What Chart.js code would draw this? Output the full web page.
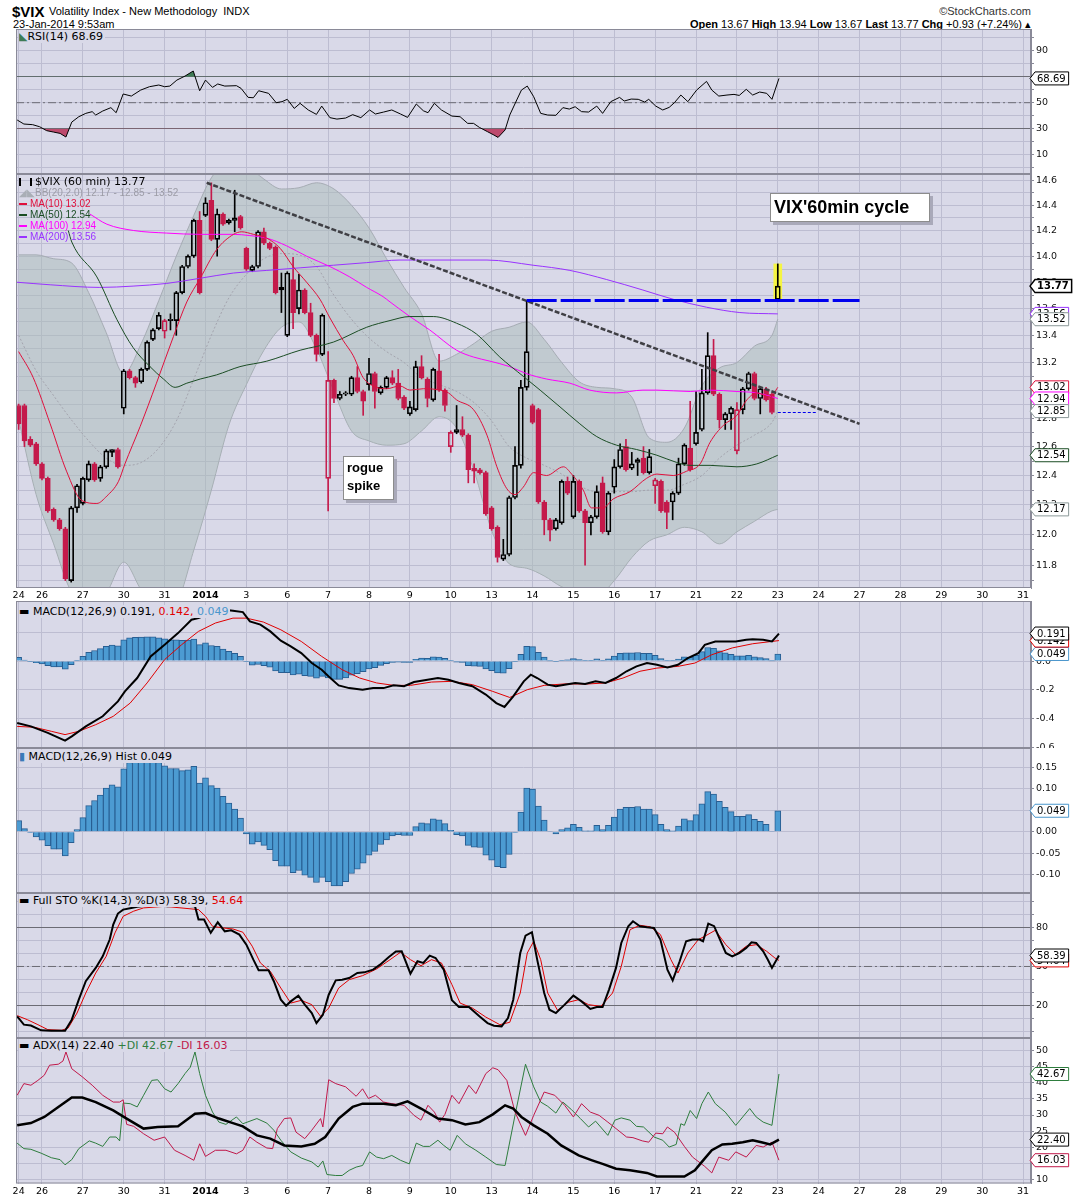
<!DOCTYPE html>
<html>
<head>
<meta charset="utf-8">
<title>$VIX 60 min</title>
<script src="https://cdn.jsdelivr.net/npm/chart.js@4.4.1/dist/chart.umd.min.js"></script>
<style>
  html, body { margin: 0; padding: 0; background: #fff; }
  body { position: relative; width: 1075px; height: 1200px; overflow: hidden; font-family: "Liberation Sans", Arial, sans-serif; color: #000; }
  canvas { position: absolute; left: 0; }
  .txt { position: absolute; white-space: nowrap; }
  .narrow { font-family: "Liberation Sans Narrow", "Liberation Sans", sans-serif; }
  .lg { position: absolute; white-space: nowrap; font: 11px "DejaVu Sans", sans-serif; line-height: 13px; background: #d9d9e8; padding-right: 2px; }
  .mal { position: absolute; left: 19px; white-space: nowrap; font: 10px "Liberation Sans", sans-serif; line-height: 11px; }
  .mal i { display: inline-block; width: 8px; height: 2px; vertical-align: middle; margin-right: 3px; }
  .note { position: absolute; background: #fff; border: 1px solid #8c8c8c; box-shadow: 3px 3px 0 #a9a9b9; font-weight: bold; color: #000; font-family: "Liberation Sans", Arial, sans-serif; }
</style>
</head>
<body>
<div class="txt narrow" style="left:12px;top:3px;font-size:15px;font-weight:bold;">$VIX</div>
<div class="txt narrow" style="left:49px;top:5px;font-size:11px;">Volatility Index - New Methodology&nbsp; INDX</div>
<div class="txt narrow" style="right:44px;top:5px;font-size:11px;color:#333;">©StockCharts.com</div>
<div class="txt narrow" style="left:13px;top:18px;font-size:11px;">23-Jan-2014 9:53am</div>
<div class="txt narrow" style="right:44px;top:18px;font-size:11px;"><b>Open</b> 13.67 <b>High</b> 13.94 <b>Low</b> 13.67 <b>Last</b> 13.77 <b>Chg</b> +0.93 (+7.24%) ▴</div>

<canvas id="rsiChart" width="1075" height="145" style="top:29px"></canvas>
<canvas id="priceChart" width="1075" height="430" style="top:174px"></canvas>
<canvas id="macdChart" width="1075" height="147" style="top:601px"></canvas>
<canvas id="histChart" width="1075" height="145" style="top:748px"></canvas>
<canvas id="stoChart" width="1075" height="145" style="top:893px"></canvas>
<canvas id="adxChart" width="1075" height="162" style="top:1038px"></canvas>

<div class="lg" style="left:19px;top:30px;"><span style="color:#3e7b55">◣</span>RSI(14) 68.69</div>

<div class="mal" style="top:175px;font:11px 'DejaVu Sans';line-height:13px;"><span style="display:inline-block;width:9px;height:8px;border:1px solid #000;border-width:0 2px;margin-right:3px;vertical-align:-1px"></span>$VIX (60 min) 13.77</div>
<div class="mal" style="top:187px;color:#9c9ca6;"><span style="color:#a9aeb6">◢◣</span>BB(20,2.0) 12.17 - 12.85 - 13.52</div>
<div class="mal" style="top:198px;color:#e0103c;"><i style="background:#e0103c"></i>MA(10) 13.02</div>
<div class="mal" style="top:209px;color:#1b4d24;"><i style="background:#1b4d24"></i>MA(50) 12.54</div>
<div class="mal" style="top:220px;color:#ff00ff;"><i style="background:#ff00ff"></i>MA(100) 12.94</div>
<div class="mal" style="top:231px;color:#9933ff;"><i style="background:#9933ff"></i>MA(200) 13.56</div>

<div class="note" style="left:770px;top:193px;width:155px;height:27px;font-size:18px;line-height:27px;padding-left:3px;">VIX'60min cycle</div>
<div class="note" style="left:343px;top:456px;width:46px;height:40px;font-size:13px;line-height:18px;padding:2px 0 0 3px;">rogue<br>spike</div>

<div class="lg" style="left:19px;top:605px;">▬ MACD(12,26,9) 0.191, <span style="color:#e00000">0.142,</span> <span style="color:#4a96cc">0.049</span></div>
<div class="lg" style="left:19px;top:750px;"><span style="color:#3a7ab8">▮</span> MACD(12,26,9) Hist 0.049</div>
<div class="lg" style="left:19px;top:894px;">▬ Full STO %K(14,3) %D(3) 58.39, <span style="color:#e00000">54.64</span></div>
<div class="lg" style="left:19px;top:1039px;">▬ ADX(14) 22.40 <span style="color:#2e7d3e">+DI 42.67</span> <span style="color:#c0184a">-DI 16.03</span></div>

<script>
// day grid: bar index of first hourly bar of each session
const dayIdx = [0, 4, 11, 18, 25, 32, 39, 46, 53, 60, 67, 74, 81, 88, 95, 102, 109, 116, 123, 130, 137, 144, 151, 158, 165, 172];
const dayLbl = ["24", "26", "27", "30", "31", "2014", "3", "6", "7", "8", "9", "10", "13", "14", "15", "16", "17", "21", "22", "23", "24", "27", "28", "29", "30", "31"];

// hourly candles, 24-Dec-2013 to 23-Jan-2014 9:53am
const openV = [12.89,12.89,12.65,12.62,12.48,12.38,12.17,12.10,12.04,11.70,
  12.18,12.21,12.37,12.48,12.38,12.46,12.56,12.58,12.87,13.14,
  13.09,13.06,13.15,13.37,13.45,13.43,13.51,13.51,13.72,13.92,
  14.00,14.28,14.32,14.44,14.13,14.33,14.26,14.28,14.31,14.06,
  13.89,13.92,14.19,14.10,14.07,13.74,13.40,13.82,13.60,13.74,
  13.57,13.40,13.26,12.38,13.07,12.94,12.97,12.97,13.09,12.99,
  13.04,13.12,12.98,13.02,13.09,13.05,12.95,12.83,12.86,13.17,
  13.08,12.93,13.14,13.00,12.60,12.70,12.72,12.68,12.45,12.44,
  12.42,12.18,12.05,11.84,11.87,12.25,12.47,13.02,12.89,12.86,
  12.22,12.10,12.04,12.08,12.36,12.12,12.36,12.16,12.08,12.12,
  12.35,12.02,12.32,12.46,12.60,12.45,12.49,12.52,12.42,12.33,
  12.36,12.22,12.22,12.28,12.48,12.59,12.62,12.72,12.98,13.25,
  12.97,12.79,12.83,12.57,12.86,13.01,13.12,12.94,13.01,12.97,
  13.67];
const highV = [12.90,12.90,12.67,12.63,12.49,12.39,12.18,12.11,12.05,12.19,
  12.34,12.39,12.50,12.49,12.47,12.58,12.58,12.59,13.15,13.15,
  13.10,13.16,13.36,13.45,13.57,13.52,13.56,13.73,13.93,14.01,
  14.29,14.35,14.46,14.58,14.37,14.34,14.29,14.52,14.32,14.07,
  13.93,14.20,14.22,14.11,14.08,13.87,13.88,13.99,13.86,13.75,
  13.64,13.41,13.56,13.28,13.08,12.99,12.99,13.10,13.17,13.00,
  13.23,13.13,13.03,13.10,13.14,13.15,12.96,12.92,13.21,13.25,
  13.09,13.16,13.26,13.01,12.71,12.89,12.81,12.69,12.48,12.45,
  12.43,12.19,12.06,11.97,12.26,12.60,13.07,13.66,12.90,12.87,
  12.23,12.11,12.11,12.37,12.39,12.40,12.37,12.17,12.13,12.33,
  12.39,12.29,12.51,12.62,12.65,12.56,12.52,12.60,12.58,12.38,
  12.37,12.23,12.29,12.52,12.62,12.92,12.99,13.15,13.42,13.37,
  12.98,12.84,12.88,12.91,13.02,13.13,13.13,13.02,13.02,12.98,
  13.94];
const lowV = [12.72,12.60,12.60,12.47,12.37,12.15,12.09,12.03,11.70,11.69,
  12.15,12.20,12.36,12.36,12.36,12.45,12.53,12.45,12.83,13.08,
  13.02,13.05,13.14,13.36,13.44,13.38,13.44,13.40,13.71,13.91,
  13.99,13.71,14.31,14.12,14.00,14.24,14.25,14.19,14.21,13.89,
  13.88,13.91,14.09,14.05,13.71,13.57,13.39,13.45,13.56,13.56,
  13.39,13.21,13.25,12.16,12.91,12.93,12.96,12.96,12.98,12.82,
  13.00,12.87,12.97,13.01,13.04,12.93,12.86,12.82,12.85,13.08,
  12.88,12.92,12.99,12.85,12.56,12.69,12.67,12.35,12.35,12.41,
  12.13,12.03,11.82,11.83,11.86,12.24,12.45,13.00,12.76,12.21,
  12.00,11.96,12.03,12.07,12.27,12.11,12.15,11.80,12.00,12.11,
  12.01,12.00,12.28,12.45,12.43,12.44,12.40,12.41,12.41,12.21,
  12.15,12.04,12.10,12.27,12.47,12.43,12.61,12.71,12.97,12.96,
  12.73,12.72,12.72,12.55,12.83,13.00,12.93,12.83,12.92,12.83,
  13.67];
const closeV = [12.76,12.64,12.61,12.48,12.38,12.16,12.10,12.04,11.71,12.18,
  12.33,12.38,12.48,12.37,12.46,12.57,12.58,12.46,13.14,13.09,
  13.05,13.15,13.35,13.44,13.55,13.51,13.52,13.72,13.92,14.00,
  14.28,13.72,14.42,14.13,14.33,14.25,14.28,14.30,14.22,13.90,
  13.92,14.19,14.10,14.06,13.72,13.76,13.87,13.57,13.74,13.57,
  13.40,13.26,13.55,13.07,12.94,12.97,12.98,13.09,12.99,12.92,
  13.12,12.99,13.02,13.09,13.05,12.94,12.87,12.88,13.17,13.09,
  12.94,13.15,13.00,12.89,12.70,12.72,12.68,12.44,12.43,12.42,
  12.14,12.04,11.85,11.87,12.25,12.47,13.02,13.28,12.77,12.22,
  12.10,12.03,12.10,12.36,12.28,12.36,12.16,12.08,12.12,12.29,
  12.02,12.28,12.46,12.58,12.44,12.48,12.51,12.42,12.53,12.37,
  12.16,12.15,12.28,12.48,12.61,12.44,12.70,12.98,13.25,12.97,
  12.79,12.83,12.87,12.86,13.01,13.12,12.94,13.01,12.93,12.84,
  13.77];

// Bollinger band (20,2) read every third bar
const bbAt = [0,3,6,9,12,15,18,21,24,27,30,33,36,39,42,45,48,51,54,57,60,63,66,69,72,75,78,81,84,87,90,93,96,99,102,105,108,111,114,117,120,123,126,129,130];
const bbUpper = [14.01,14.01,13.98,13.95,13.72,13.42,13.12,13.34,13.66,14.0,14.32,14.62,14.75,14.72,14.61,14.53,14.54,14.58,14.53,14.40,14.22,13.98,13.76,13.56,13.21,13.26,13.34,13.43,13.46,13.50,13.37,13.20,13.06,13.02,13.01,12.95,12.66,12.63,12.73,13.03,13.16,13.20,13.32,13.40,13.52];
const bbMid = [13.40,13.14,12.96,12.79,12.64,12.52,12.47,12.49,12.59,12.78,13.08,13.40,13.68,13.86,13.98,14.02,14.01,13.92,13.70,13.52,13.38,13.28,13.20,13.09,13.04,12.99,12.91,12.78,12.60,12.52,12.47,12.41,12.33,12.29,12.29,12.29,12.30,12.30,12.34,12.40,12.52,12.61,12.68,12.77,12.85];
const bbLower = [12.79,12.27,11.94,11.63,11.56,11.62,11.82,11.64,11.52,11.56,11.90,12.30,12.75,13.04,13.29,13.46,13.50,13.30,12.99,12.71,12.64,12.61,12.62,12.71,12.81,12.73,12.43,12.03,11.81,11.78,11.73,11.66,11.62,11.60,11.70,11.85,11.96,12.00,12.05,12.02,11.94,12.02,12.09,12.16,12.17];

// moving averages as [bar, value]
const ma10Pts = [[0,13.28],[2.5,13.09],[5.4,12.76],[8.2,12.43],[10.8,12.23],[13.4,12.21],[15.1,12.26],[17.1,12.36],[18.2,12.48],[20.8,12.74],[23.6,13.05],[26.5,13.39],[28.8,13.65],[31.1,13.83],[33.9,14.05],[36.8,14.17],[38.2,14.19],[40.2,14.17],[42.5,14.14],[44.8,14.06],[47,13.92],[49.3,13.80],[51.6,13.67],[53.3,13.53],[55.6,13.36],[57.3,13.25],[59,13.09],[61.3,13.02],[63,13.01],[65.3,13.03],[67,13.0],[69.3,13.01],[72.2,13.0],[73.6,12.98],[75,12.93],[77.9,12.86],[80.2,12.68],[81.9,12.46],[83.6,12.31],[85,12.27],[86.4,12.32],[88.2,12.42],[90.4,12.40],[93.3,12.46],[94.7,12.41],[96.7,12.30],[98.1,12.18],[100.1,12.18],[101.8,12.24],[104.7,12.29],[107.5,12.38],[109.3,12.41],[112.1,12.40],[114.4,12.43],[116.7,12.48],[118.4,12.63],[120.7,12.75],[123,12.82],[124.7,12.93],[126.4,12.98],[128.7,12.95],[130,13.02]];
const ma50Pts = [[8.5,14.2],[9.1,14.11],[13.4,13.84],[16.8,13.52],[19.6,13.31],[22.5,13.17],[24.8,13.08],[26.8,13.02],[28.8,13.05],[31.1,13.08],[33.9,13.11],[37.9,13.17],[42.5,13.21],[48.2,13.29],[53.9,13.35],[59.6,13.46],[63.6,13.51],[67,13.54],[71,13.54],[75,13.49],[78.4,13.41],[82.4,13.24],[86.4,13.10],[89.3,13.0],[92.7,12.88],[96.1,12.76],[99,12.67],[102.4,12.61],[105.8,12.58],[109.3,12.54],[112.7,12.49],[115,12.47],[118.4,12.47],[123,12.46],[126.4,12.48],[130,12.54]];
const ma100Pts = [[12.2,14.33],[15.1,14.25],[19.7,14.2],[25.3,14.18],[31.1,14.17],[36.8,14.17],[39.6,14.16],[42.5,14.14],[45.9,14.08],[49.3,14.0],[53.3,13.92],[56.7,13.84],[59.6,13.76],[62.4,13.69],[63.6,13.65],[67,13.54],[70.4,13.44],[75,13.29],[77.9,13.24],[80.7,13.21],[84.1,13.17],[86.9,13.12],[90.4,13.08],[94.4,13.05],[97.8,13.0],[102.4,12.98],[106.9,13.0],[109.3,13.0],[115,12.99],[118.4,13.0],[123,12.99],[126.4,12.98],[130,12.94]];
const ma200Pts = [[-0.45,13.8],[5.4,13.78],[13.9,13.76],[19.6,13.77],[25.3,13.79],[31.1,13.83],[36.8,13.87],[42.5,13.89],[48.2,13.91],[53.9,13.93],[59.6,13.95],[65.3,13.97],[69.3,13.97],[80.2,13.97],[88.1,13.93],[94.4,13.89],[100.7,13.82],[106.9,13.74],[112.1,13.67],[117.8,13.61],[123.5,13.57],[130,13.56]];

// hand-drawn lines
const trendPts = [[32.2,14.58],[144,12.76]];
const resistPts = [[87,13.66],[144,13.66]];
const supportPts = [[130,12.84],[136.7,12.84]];

// indicators as [bar, value]
const rsiPts = [[-0.25,36.7],[0.9,33.6],[2.4,33.1],[3.6,31.5],[4.8,28.5],[6,27.4],[7.1,26.4],[8.1,23.6],[9.1,35.1],[10.3,39.2],[11.5,41.8],[12.6,43.1],[13.2,40.5],[14.4,43.6],[15.8,46.2],[16.7,42.3],[17.9,56.7],[19.3,55.1],[20.9,59.7],[22.4,62.3],[24,63.6],[25,62.3],[25.9,62.8],[27.1,67.4],[28.5,70.5],[29.9,74.4],[31,59.2],[32,67.4],[33.2,61.8],[34.1,64.4],[35.3,62.8],[37.3,63.1],[38.1,61],[39.3,54.1],[40.2,53.8],[41.1,59.2],[42.8,57.2],[44.1,50],[45.1,50.8],[46,52.6],[47.2,45.6],[48.2,49.5],[49.6,44.4],[51,41],[51.9,47.4],[53.3,38.5],[54.5,37.4],[56,38.2],[57.2,40.8],[58.6,38.5],[60.1,44.4],[61.1,41.3],[62.5,42.8],[63.9,44.4],[65.4,41.3],[66.6,38.7],[68.1,49],[69.3,43.8],[70.1,42.3],[71.2,49.5],[72.4,44.4],[74.2,39.7],[75.6,39.2],[76.9,34.1],[77.9,34.1],[78.9,31],[80.3,27.7],[81.4,25.1],[82.1,23.3],[83.3,29],[84.1,40.5],[85.3,52.1],[86.1,59.7],[87.1,62.8],[88.2,54.6],[89.4,41.8],[90.6,40.5],[92,40.3],[93.2,46.2],[94.3,45.1],[95.3,46.9],[96.4,43.1],[97.6,42.8],[99,47.4],[100,41.8],[101.4,50.8],[102.9,54.1],[103.7,51.3],[104.9,52.8],[106.1,52.6],[107.2,50.5],[107.9,52.6],[109.1,47.4],[110.3,44.4],[111.4,46.4],[112.3,50],[113.4,55.9],[114.6,50.8],[116.1,59.7],[117.8,66.4],[118.7,59.7],[119.9,55.1],[121.3,55.9],[122.5,56.4],[123.4,55.6],[124.6,60.3],[125.7,55.9],[126.9,58.2],[128.1,57.2],[129,52.6],[130.2,68.69]];

const macdPts = [[-0.25,-0.43],[2.1,-0.454],[5,-0.499],[7.95,-0.553],[9.1,-0.523],[11.5,-0.454],[14.4,-0.384],[17,-0.28],[18.2,-0.211],[20.3,-0.118],[22.6,0.032],[25,0.113],[27.3,0.194],[29.6,0.287],[30.8,0.298],[32,0.317],[34,0.343],[36,0.353],[36.7,0.35],[38.4,0.34],[39.6,0.275],[41.4,0.253],[43.1,0.206],[44.9,0.141],[46.6,0.102],[48.4,0.055],[50.2,-0.014],[51.9,-0.06],[53.1,-0.107],[54.8,-0.169],[56.6,-0.188],[58.9,-0.199],[60.7,-0.188],[62.5,-0.188],[64.2,-0.169],[66,-0.175],[67.7,-0.146],[69.5,-0.134],[71.8,-0.118],[73.6,-0.13],[75.4,-0.152],[77.7,-0.175],[80,-0.233],[81.8,-0.292],[83.2,-0.319],[84.7,-0.245],[86.5,-0.141],[87.7,-0.095],[88.8,-0.118],[90.6,-0.164],[92,-0.175],[93.5,-0.164],[95.3,-0.152],[97,-0.159],[98.8,-0.141],[100.5,-0.152],[102.3,-0.118],[104.1,-0.071],[105.8,-0.037],[107.6,-0.014],[109.3,-0.026],[111.1,-0.044],[112.9,-0.026],[114.6,0.021],[116.4,0.055],[117.5,0.113],[119.3,0.136],[121,0.136],[122.8,0.136],[124.6,0.148],[125.7,0.152],[127.5,0.148],[129,0.136],[130.2,0.191]];
const signalPts = [[-0.25,-0.454],[2.7,-0.46],[5.6,-0.488],[7.95,-0.511],[10.3,-0.488],[13.2,-0.442],[16.2,-0.384],[19.1,-0.292],[22,-0.152],[25,0.01],[27.9,0.113],[30.8,0.206],[33.7,0.264],[36.7,0.298],[39,0.298],[41.9,0.271],[44.9,0.217],[48.4,0.136],[51.9,0.032],[55.4,-0.06],[58.4,-0.118],[61.3,-0.152],[64.2,-0.169],[67.1,-0.169],[70.7,-0.146],[74.2,-0.141],[77.7,-0.164],[81.2,-0.211],[84.1,-0.253],[87.1,-0.199],[90,-0.169],[93.5,-0.159],[97.6,-0.159],[100.5,-0.152],[103.5,-0.118],[106.4,-0.071],[109.3,-0.049],[112.9,-0.037],[115.8,-0.014],[118.7,0.044],[122.2,0.091],[125.7,0.12],[130.2,0.142]];
const histV = [0.026,0.007,-0.002,-0.012,-0.020,-0.033,-0.041,-0.041,-0.057,-0.026,
  0.005,0.033,0.061,0.073,0.086,0.102,0.110,0.105,0.147,0.162,
  0.164,0.166,0.168,0.168,0.162,0.154,0.148,0.148,0.143,0.145,
  0.153,0.114,0.126,0.108,0.102,0.083,0.067,0.053,0.032,-0.005,
  -0.029,-0.024,-0.032,-0.042,-0.068,-0.081,-0.081,-0.096,-0.091,-0.102,
  -0.107,-0.119,-0.107,-0.117,-0.127,-0.127,-0.117,-0.098,-0.088,-0.074,
  -0.055,-0.046,-0.030,-0.019,-0.010,-0.007,-0.009,-0.009,0.012,0.021,
  0.019,0.030,0.028,0.019,0.003,-0.007,-0.010,-0.032,-0.036,-0.037,
  -0.055,-0.067,-0.082,-0.084,-0.053,-0.002,0.046,0.102,0.100,0.060,
  0.027,0.001,-0.005,0.005,0.009,0.017,0.010,0.002,0.002,0.015,
  0.005,0.015,0.034,0.053,0.057,0.057,0.059,0.053,0.053,0.040,
  0.017,0.005,0.002,0.013,0.030,0.026,0.040,0.065,0.094,0.088,
  0.071,0.057,0.047,0.036,0.036,0.040,0.029,0.024,0.017,0.001,
  0.049];

const stoKPts = [[-0.25,11.9],[0.9,5.5],[2.1,4.8],[3.85,1.2],[5.6,0.9],[7.95,0.9],[9.1,9.3],[10.3,24.6],[11.5,38.7],[13.2,48.9],[14.4,57.8],[15.6,70.6],[16.2,82],[17,90.5],[17.9,93.5],[19.3,94.8],[20.3,95.6],[22,96.6],[23.8,96.6],[25.5,96],[27.3,96.6],[30.2,96],[30.8,85.9],[31.75,85.9],[32.9,75.7],[34.1,83.8],[35.3,76.9],[36.4,77.7],[37.8,74.4],[39,66.7],[40.2,55.2],[41.1,47.1],[42.8,47.1],[43.7,38.7],[44.9,24.6],[45.8,20],[46.6,23.3],[47.9,27.7],[49,20.8],[50.2,14.4],[51,6.7],[52.1,13.1],[53.1,28.4],[54.3,39.4],[55.4,39.9],[56.6,41.2],[58,45],[59.2,45.5],[60.7,47.6],[61.9,51.4],[63.4,57.3],[64.6,61.4],[65.6,61.6],[67.1,44.5],[68.3,54],[69.3,52.7],[70.4,58.3],[71.4,56.5],[72.8,47.6],[74.2,24.1],[75.4,19],[77.1,19],[78.9,11.9],[80.3,6.7],[81.4,4.7],[82.7,4.2],[83.8,10.6],[84.7,24.6],[85.9,60.3],[86.8,73.6],[87.9,76.2],[88.8,55.2],[90,29.7],[90.9,16.9],[92,14.4],[93.5,20.8],[95,27.7],[96.4,23.3],[97.9,17.5],[99,19],[100,19],[101.1,32.3],[102.3,48.9],[103.2,68],[104.4,80.8],[105.2,84.6],[106.4,80.8],[107.6,80],[108.8,79.5],[109.9,70.6],[111.1,47.6],[112,39.4],[113.2,54],[114.3,69.3],[115.4,70.6],[116.6,70.6],[117.2,69.3],[118.1,82.8],[119.1,80.8],[120.1,70.6],[121.1,60.3],[122.2,57.8],[123.4,60.3],[124.6,64.2],[125.5,68.5],[126.3,68],[127.5,61.6],[128.3,55.2],[129,48.9],[130.2,58.39]];
const stoDPts = [[-0.25,12.4],[1.5,9.3],[3.3,5.5],[5,1.7],[7.4,1.2],[8.5,3],[10,14.4],[11.5,29.7],[13.2,45],[15,57.8],[16.5,75.7],[17.9,88.4],[19.7,92.3],[21.4,94.8],[25,96],[30.8,93.5],[32,88.4],[33.2,80.8],[34.9,79.5],[36.7,78.7],[38.4,76.2],[40,65.5],[41.4,52.7],[43.1,46.3],[44.9,33.5],[46.6,22],[48.4,24.1],[50.2,20.8],[51.7,11.9],[53.1,18.2],[54.8,33.5],[56.6,39.9],[58.9,43],[61.3,48.1],[63.6,55.2],[65.4,60.9],[67.1,55.2],[68.9,50.6],[70.7,55.2],[72.4,52.7],[74.2,36.1],[75.6,22],[77.7,18.2],[80,11.3],[82.4,5.5],[84.1,7.3],[85.9,29.7],[87.1,60.3],[88.2,69.3],[89.4,55.2],[90.6,29.7],[92.3,16.4],[94.1,22.6],[95.9,24.6],[97.6,20.8],[99.7,19.5],[101.7,29.7],[103.2,50.1],[104.7,78.2],[106.4,81.5],[108.2,80.3],[109.9,74.4],[111.7,55.2],[112.9,45],[114.6,60.3],[116.4,70.6],[117.5,73.1],[119.3,77.7],[121.1,66.7],[122.8,59.1],[124.6,65.5],[126.3,66.7],[128.1,61.6],[129.5,56.5],[130.2,54.64]];

const adxPts = [[-0.25,26.8],[2.1,27.5],[4.4,29.4],[6.8,32.5],[9.1,35.4],[10.9,35.4],[13.2,34],[16.2,31.4],[18.5,28.9],[21.4,25.8],[23.8,26.3],[27.3,26.5],[30.2,30.4],[32,30.6],[34.3,28.9],[36.7,27.5],[38.4,26.5],[40.8,23.7],[43.1,22.7],[45.5,20.6],[48.4,20.3],[50.7,21.1],[52.5,23.2],[54.8,28.9],[57.2,32.5],[58.9,33.5],[62.5,33.5],[64.6,33],[66.6,34.2],[68.9,32],[71.8,28.9],[74.2,28.4],[76.5,27.1],[78.9,27.8],[81.2,30.2],[83.3,33],[84.7,32],[86.1,29.4],[88.2,26.8],[90.6,24.2],[92.9,20.6],[95.9,17.5],[98.2,16],[100,14.9],[102.3,13.4],[104.7,12.9],[107.6,12.1],[109.3,11],[111.7,11],[114,11],[115.8,12.9],[117,15.5],[118.7,19.1],[120.5,20.9],[122.2,21.1],[124,21.6],[125.7,22.2],[127.2,21.6],[128.7,20.9],[130.2,22.4]];
const plusDiPts = [[-0.25,21.3],[0.9,19.6],[2.1,19.4],[3.85,18.2],[5.6,16.8],[7.1,16.2],[7.95,14.6],[9.1,16.2],[10.3,19.6],[12.1,22],[13.2,21.3],[14.4,20.3],[15.6,23.2],[16.7,23.2],[17.3,22],[17.9,33.7],[19.1,33.5],[20.3,32.5],[21.4,36.1],[22.8,40.7],[23.8,40.9],[25,38.1],[26.1,37.1],[27.3,39.7],[28.5,42.8],[29.4,44.8],[30.2,49.5],[31,42.8],[32,36.1],[33.2,30.9],[34.3,27.8],[35.5,27.1],[37.3,29.4],[38.4,27.3],[40.8,28.9],[42.5,27.5],[43.7,25.3],[44.9,22.2],[46.6,18.6],[48.4,16.7],[50.2,15.5],[51.3,13.9],[52.1,15.8],[52.8,11.6],[54.3,11.3],[55.4,11.3],[56.6,12.9],[57.8,13.9],[58.9,14.4],[60.1,18.6],[61.3,17],[62.5,16.5],[63.9,17.5],[65.4,16],[66.9,14.9],[68.1,21.3],[69.3,20.3],[70.4,20.3],[71.8,22.2],[72.8,20.6],[73.9,19.1],[75.1,23.7],[76.5,21.1],[78.3,19.1],[80,17],[81.8,14.7],[83.3,14.4],[85,29.9],[86.8,45.7],[88.2,38.7],[89.4,34],[90.6,32.7],[92,30.6],[93.2,34],[94.7,31.6],[96.2,28.9],[97.6,26.3],[98.8,28.1],[100.9,23.7],[102.1,28.4],[103.2,29.1],[104.7,28.4],[105.8,26.5],[107,26.3],[108.8,23.2],[110.3,22.2],[111.4,20.1],[112.6,20.9],[113.4,27.3],[114,26.8],[115,31.4],[116.1,28.9],[117,33.5],[118.1,37.1],[119.3,33.5],[121,30.9],[122.8,26.8],[124,29.4],[125.2,32],[126.3,29.4],[127.5,27.8],[129,26.8],[130.2,42.67]];
const minusDiPts = [[-0.25,36.1],[0.9,39.7],[2.1,39.2],[3.3,40.7],[4.4,42.3],[5.3,45.4],[6.8,45.7],[7.6,46.7],[8.1,49.5],[9.1,44.3],[10.9,41.8],[12.6,39.2],[14.4,36.1],[16.2,34],[17.3,34],[17.9,34.7],[18.5,27.1],[19.7,26.5],[21.4,24.2],[23.2,22.2],[25,23.2],[26.7,19.1],[28.5,17.5],[30,16],[31,21.1],[32,17.2],[33.7,19.1],[35.5,19.1],[37.3,18],[38.4,19.1],[39.6,23.2],[40.8,21.6],[42.5,19.8],[43.5,19.6],[44.3,25.8],[45.5,28.9],[46.6,29.1],[47.5,24.7],[49,22.7],[50.2,25.3],[51.7,28.9],[52.1,26.3],[53.1,40.9],[54.3,39.7],[56,38.7],[57.8,35.8],[58.9,38.1],[59.9,35.1],[61.1,36.1],[62.5,34],[63.9,33.5],[66,33],[67.7,29.9],[68.9,28.4],[70.1,33],[71.2,30.9],[72.1,27.8],[73,30.2],[74.2,36.1],[75.4,33.5],[77.1,39.2],[78.3,36.6],[80,42.8],[81.2,44.6],[82.1,44],[83.6,40.7],[85,30.9],[86.8,23.7],[88.2,29.9],[90,37.1],[91.8,36.1],[93.5,33],[95,29.4],[96.4,33.5],[97.9,30.9],[99.4,29.9],[100.9,27.8],[102.3,25.8],[104.1,23.2],[105.2,23],[106.8,22],[107.9,21.6],[109.1,24.4],[110.3,24.2],[111.1,26.3],[112.3,24.7],[114,20.3],[115.4,17],[117.5,14.1],[118.7,12.1],[119.9,17],[121.6,16],[122.8,18.6],[124.6,17],[126.3,20.6],[127.5,20.1],[129,21.6],[130.2,16.03]];

// axis ticks
const rsiTicks = [0, 10, 20, 30, 40, 50, 60, 70, 80, 90, 100];
const priceTicks = [11.7, 11.8, 11.9, 12.0, 12.1, 12.2, 12.3, 12.4, 12.5, 12.6, 12.7, 12.8, 12.9, 13.0, 13.1, 13.2, 13.3, 13.4, 13.5, 13.6, 13.7, 13.8, 13.9, 14.0, 14.1, 14.2, 14.3, 14.4, 14.5, 14.6];
const macdTicks = [-0.6, -0.4, -0.2, 0, 0.2];
const histTicks = [-0.1, -0.05, 0, 0.05, 0.1, 0.15];
const stoTicks = [0, 10, 20, 30, 40, 50, 60, 70, 80, 90, 100];
const adxTicks = [10, 15, 20, 25, 30, 35, 40, 45, 50];

const X_MIN = -0.45;
const X_MAX = 173.36;
const PLOT_BG = "#d9d9e8";
const GRID = "#bdbdd1";
const FRAME = "#8a8a98";
const RED = "#c41a4b";
const HIST_FILL = "#4c9bd2";
const HIST_EDGE = "#285e92";

Chart.defaults.font.family = "DejaVu Sans";
Chart.defaults.elements.point.radius = 0;

function drawTag(ctx, x, y, text, color, bold) {
  ctx.font = (bold ? "bold " : "") + "10px 'DejaVu Sans'";
  const w = ctx.measureText(text).width + 5;
  ctx.beginPath();
  ctx.moveTo(x, y);
  ctx.lineTo(x + 5, y - 6.5);
  ctx.lineTo(x + 5 + w, y - 6.5);
  ctx.lineTo(x + 5 + w, y + 6.5);
  ctx.lineTo(x + 5, y + 6.5);
  ctx.closePath();
  ctx.fillStyle = "#fff";
  ctx.fill();
  ctx.lineWidth = bold ? 1.5 : 1;
  ctx.strokeStyle = color;
  ctx.stroke();
  ctx.fillStyle = "#000";
  ctx.textBaseline = "middle";
  ctx.textAlign = "left";
  ctx.fillText(text, x + 7, y + 0.5);
}

const framePlugin = {
  id: "frame",
  beforeDraw(chart) {
    const { ctx, chartArea: a } = chart;
    ctx.save();
    ctx.fillStyle = PLOT_BG;
    ctx.fillRect(a.left, a.top, a.right - a.left, a.bottom - a.top);
    ctx.restore();
  },
  afterDraw(chart, args, opts) {
    const { ctx, chartArea: a } = chart;
    ctx.save();
    ctx.strokeStyle = FRAME;
    ctx.lineWidth = 1;
    ctx.strokeRect(a.left + 0.5, a.top + 0.5, a.right - a.left - 1, a.bottom - a.top - 1);
    const y = chart.scales.y;
    (opts.tags || []).forEach((t) => {
      drawTag(ctx, a.right - 1, y.getPixelForValue(t.v), t.text, t.color, t.bold);
    });
    ctx.restore();
  },
};

function line(pts, color, width, extra) {
  return Object.assign({
    type: "line",
    data: pts.map(([x, y]) => ({ x, y })),
    borderColor: color,
    borderWidth: width,
    pointRadius: 0,
    fill: false,
    tension: 0,
  }, extra || {});
}

function flat(value, color, dash) {
  return line([[X_MIN, value], [X_MAX, value]], color, 1, { borderDash: dash, order: 30 });
}

function histBars() {
  return {
    type: "bar",
    data: histV.map((v, i) => ({ x: i, y: v })),
    backgroundColor: HIST_FILL,
    borderColor: HIST_EDGE,
    borderWidth: 1,
    barThickness: 6,
    grouped: false,
    order: 25,
  };
}

// keep the plot area exactly where the panel is; no label overhang padding
function noPad(s) {
  s.paddingTop = 0;
  s.paddingBottom = 0;
  s.paddingLeft = 0;
  s.paddingRight = 0;
}

function makePanel(id, cfg) {
  return new Chart(document.getElementById(id), {
    type: "bar",
    data: { datasets: cfg.datasets },
    plugins: [framePlugin],
    options: {
      animation: false,
      responsive: false,
      events: [],
      layout: { autoPadding: false, padding: { left: 16, right: 0, top: 0, bottom: 0 } },
      plugins: {
        legend: { display: false },
        tooltip: { enabled: false },
        frame: { tags: cfg.tags },
      },
      scales: {
        x: {
          type: "linear",
          min: X_MIN,
          max: X_MAX,
          offset: false,
          grid: { color: GRID, offset: false, drawTicks: false },
          border: { display: false },
          afterBuildTicks: (s) => { s.ticks = dayIdx.map((v) => ({ value: v })); },
          afterFit: (s) => { s.height = cfg.xHeight || 0; noPad(s); },
          ticks: {
            display: !!cfg.xHeight,
            autoSkip: false,
            maxRotation: 0,
            padding: 2,
            color: "#000",
            font: (c) => ({ family: "DejaVu Sans", size: 9.5, weight: c.tick && c.tick.value === 32 ? "bold" : "normal" }),
            callback: (v, i) => dayLbl[i],
          },
        },
        y: {
          type: cfg.log ? "logarithmic" : "linear",
          position: "right",
          min: cfg.ymin,
          max: cfg.ymax,
          grid: {
            color: (c) => (cfg.dark && c.tick && cfg.dark.includes(c.tick.value) ? "#6c6c74" : GRID),
            tickLength: 3,
            tickColor: FRAME,
          },
          border: { color: FRAME },
          afterBuildTicks: (s) => { s.ticks = cfg.yTicks.map((v) => ({ value: v })); },
          afterFit: (s) => { s.width = 44; noPad(s); },
          ticks: {
            autoSkip: false,
            padding: 2,
            color: "#111",
            font: { family: "DejaVu Sans", size: 9.5 },
            callback: cfg.yLabel,
          },
        },
      },
    },
  });
}

// RSI
makePanel("rsiChart", {
  ymin: -4.85, ymax: 106.7, yTicks: rsiTicks, dark: [70, 30],
  yLabel: (v) => (v % 20 === 10 ? String(v) : ""),
  tags: [{ v: 68.69, text: "68.69", color: "#000" }],
  datasets: [
    line(rsiPts, "#000", 1, { order: 0 }),
    line(rsiPts, "rgba(0,0,0,0)", 0, { order: 5, fill: { target: { value: 30 }, above: "rgba(0,0,0,0)", below: "#bd4a6d" } }),
    line(rsiPts, "rgba(0,0,0,0)", 0, { order: 5, fill: { target: { value: 70 }, above: "#3e7b55", below: "rgba(0,0,0,0)" } }),
    flat(50, "#6c6c74", [8, 3, 2, 3]),
  ],
});

// price panel
const bars = closeV.map((_, i) => i);
const isRed = (i) => (i > 0 ? closeV[i] < closeV[i - 1] : closeV[i] < openV[i]);
const candleColor = bars.map((i) => (isRed(i) ? RED : "#000"));
const bodyFill = bars.map((i) => (closeV[i] < openV[i] ? candleColor[i] : "rgba(0,0,0,0)"));
const bbLine = (vals) => bbAt.map((x, k) => [x, vals[k]]);

makePanel("priceChart", {
  log: true, ymin: 11.652, ymax: 14.651, yTicks: priceTicks, xHeight: 16,
  yLabel: (v) => (Math.round(v * 10) % 2 === 0 ? v.toFixed(1) : ""),
  tags: [
    { v: 13.56, text: "13.56", color: "#9933ff" },
    { v: 13.52, text: "13.52", color: "#8b9898" },
    { v: 13.02, text: "13.02", color: "#e0103c" },
    { v: 12.94, text: "12.94", color: "#ff00ff" },
    { v: 12.85, text: "12.85", color: "#8b9898" },
    { v: 12.54, text: "12.54", color: "#1b4d24" },
    { v: 12.17, text: "12.17", color: "#8b9898" },
    { v: 13.77, text: "13.77", color: "#000", bold: true },
  ],
  datasets: [
    line(bbLine(bbUpper), "#a6acb4", 1, { order: 20, cubicInterpolationMode: "monotone", fill: "+1", backgroundColor: "rgba(170,188,184,0.5)" }),
    line(bbLine(bbLower), "#a6acb4", 1, { order: 20, cubicInterpolationMode: "monotone" }),
    line(bbLine(bbMid), "#a4a4ae", 1, { order: 19, cubicInterpolationMode: "monotone", borderDash: [2, 2] }),
    {
      type: "bar", order: 18, grouped: false, barThickness: 8, borderWidth: 0,
      data: [{ x: 130, y: [lowV[130], highV[130]] }],
      backgroundColor: "#f5f542",
    },
    {
      type: "bar", order: 17, grouped: false, barThickness: 1, borderWidth: 0,
      data: bars.map((i) => ({ x: i, y: [Math.max(openV[i], closeV[i]), highV[i]] })),
      backgroundColor: candleColor,
    },
    {
      type: "bar", order: 17, grouped: false, barThickness: 1, borderWidth: 0,
      data: bars.map((i) => ({ x: i, y: [lowV[i], Math.min(openV[i], closeV[i])] })),
      backgroundColor: candleColor,
    },
    {
      type: "bar", order: 16, grouped: false, barThickness: 5, borderWidth: 1, borderSkipped: false, minBarLength: 1,
      data: bars.map((i) => ({ x: i, y: [openV[i], closeV[i]] })),
      backgroundColor: bodyFill,
      borderColor: candleColor,
    },
    line(ma200Pts, "#9933ff", 1, { order: 15, cubicInterpolationMode: "monotone" }),
    line(ma100Pts, "#ff00ff", 1, { order: 14, cubicInterpolationMode: "monotone" }),
    line(ma50Pts, "#1b4d24", 1, { order: 13, cubicInterpolationMode: "monotone" }),
    line(ma10Pts, "#e0103c", 1, { order: 12, cubicInterpolationMode: "monotone" }),
    line(supportPts, "#0000ee", 1, { order: 11, borderDash: [3, 2] }),
    line(trendPts, "#3f3f44", 2.5, { order: 10, borderDash: [5, 2] }),
    line(resistPts, "#0000ee", 3, { order: 9, borderDash: [30, 4] }),
  ],
});

// MACD
makePanel("macdChart", {
  ymin: -0.604, ymax: 0.417, yTicks: macdTicks,
  yLabel: (v) => v.toFixed(1),
  tags: [
    { v: 0.049, text: "0.049", color: "#4a96cc" },
    { v: 0.142, text: "0.142", color: "#e00000" },
    { v: 0.191, text: "0.191", color: "#000" },
  ],
  datasets: [
    histBars(),
    line(signalPts, "#e00000", 1, { order: 2 }),
    line(macdPts, "#000", 2, { order: 1 }),
  ],
});

// MACD histogram
makePanel("histChart", {
  ymin: -0.1436, ymax: 0.196, yTicks: histTicks,
  yLabel: (v) => v.toFixed(2),
  tags: [{ v: 0.049, text: "0.049", color: "#4a96cc" }],
  datasets: [histBars()],
});

// slow stochastic
makePanel("stoChart", {
  ymin: -4.7, ymax: 106.2, yTicks: stoTicks, dark: [80, 20],
  yLabel: (v) => (v === 20 || v === 50 || v === 80 ? String(v) : ""),
  tags: [
    { v: 54.64, text: "54.64", color: "#e00000" },
    { v: 58.39, text: "58.39", color: "#000" },
  ],
  datasets: [
    flat(50, "#6c6c74", [8, 3, 2, 3]),
    line(stoDPts, "#e00000", 1, { order: 2 }),
    line(stoKPts, "#000", 2, { order: 1 }),
  ],
});

// ADX
makePanel("adxChart", {
  ymin: 8.83, ymax: 53.8, yTicks: adxTicks, xHeight: 16.5,
  yLabel: (v) => String(v),
  tags: [
    { v: 42.67, text: "42.67", color: "#2e7d3e" },
    { v: 22.40, text: "22.40", color: "#000" },
    { v: 16.03, text: "16.03", color: "#c0184a" },
  ],
  datasets: [
    line(plusDiPts, "#2e7d3e", 1, { order: 3 }),
    line(minusDiPts, "#c0184a", 1, { order: 2 }),
    line(adxPts, "#000", 2.5, { order: 1 }),
  ],
});
</script>
</body>
</html>
